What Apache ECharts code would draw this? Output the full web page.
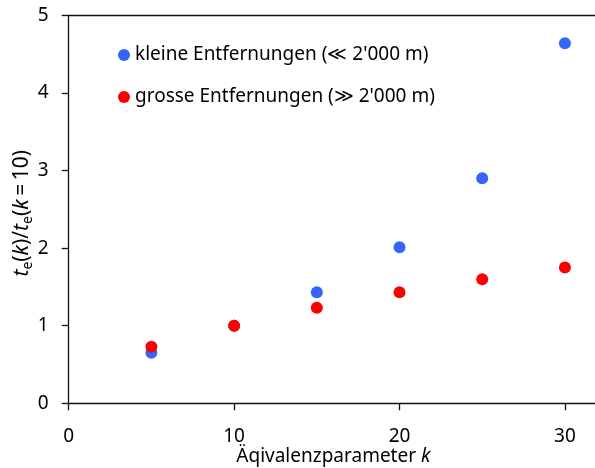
<!DOCTYPE html>
<html>
<head>
<meta charset="utf-8">
<script src="https://cdn.jsdelivr.net/npm/echarts@6/dist/echarts.min.js"></script>
<style>html,body{margin:0;padding:0;background:#fff}#c{width:595px;height:468px}</style>
</head>
<body>
<div id="c"></div>
<script>
var kValues = [5, 10, 15, 20, 25, 30];
var smallDist = [0.65, 1.00, 1.43, 2.01, 2.90, 4.64];
var largeDist = [0.73, 1.00, 1.23, 1.43, 1.60, 1.75];
var seriesNames = ["kleine Entfernungen (\u226A 2'000 m)", "grosse Entfernungen (\u226B 2'000 m)"];
var xTicks = [0, 10, 20, 30];
var yTicks = [0, 1, 2, 3, 4, 5];

var FONT = 'Noto Sans';
var FS = 19;
function pairs(ys){ return kValues.map(function(k,i){ return [k, ys[i]]; }); }

var chart = echarts.init(document.getElementById('c'), null, {renderer:'canvas'});
var axisLineStyle = {color:'#111', width:1.3};
chart.setOption({
  animation:false,
  textStyle:{fontFamily:FONT, color:'#000'},
  grid:{left:68.7, right:-3, top:15.3, bottom:64.7, containLabel:false, outerBoundsMode:'none'},
  legend:{
    orient:'vertical', left:118, top:43, padding:0, itemGap:18,
    itemWidth:12, itemHeight:12, icon:'circle',
    textStyle:{fontFamily:FONT, fontSize:FS, color:'#000', lineHeight:24},
    data:seriesNames
  },
  xAxis:[{
    type:'value', min:0, max:32, interval:10,
    axisLine:{show:true, lineStyle:axisLineStyle},
    axisTick:{show:true, length:7, inside:false, lineStyle:axisLineStyle},
    splitLine:{show:false},
    axisLabel:{fontFamily:FONT, fontSize:FS, color:'#000', margin:24,
      formatter:function(v){ return xTicks.indexOf(v) >= 0 ? String(v) : ''; }},
    name:'{n|\u00C4qivalenzparameter }{i|k}', nameLocation:'middle', nameGap:44, nameMoveOverlap:false,
    nameTextStyle:{rich:{n:{fontFamily:FONT, fontSize:FS, color:'#000'}, i:{fontFamily:FONT, fontSize:FS, fontStyle:'italic', color:'#000'}}}
  },{
    type:'value', position:'top', min:0, max:32,
    axisLine:{show:true, lineStyle:axisLineStyle},
    axisTick:{show:false}, axisLabel:{show:false}, splitLine:{show:false}
  }],
  yAxis:{
    type:'value', min:0, max:5, interval:1,
    axisLine:{show:true, lineStyle:axisLineStyle},
    axisTick:{show:true, length:7, lineStyle:axisLineStyle},
    splitLine:{show:false},
    axisLabel:{fontFamily:FONT, fontSize:FS, color:'#000', margin:20,
      formatter:function(v){ return yTicks.indexOf(v) >= 0 ? String(v) : ''; }},
    name:'{i|t}{s|e}{n|(}{i|k}{n|)/}{i|t}{s|e}{n|(}{i|k}{n|\u2009=\u200910)}',
    nameLocation:'middle', nameRotate:90, nameGap:34, nameMoveOverlap:false,
    nameTextStyle:{padding:[0,8,0,0], rich:{
      n:{fontFamily:FONT, fontSize:21, color:'#000', lineHeight:26, verticalAlign:'middle'},
      i:{fontFamily:FONT, fontSize:21, fontStyle:'italic', color:'#000', lineHeight:26, verticalAlign:'middle'},
      s:{fontFamily:FONT, fontSize:14, color:'#000', lineHeight:13, verticalAlign:'bottom'}
    }}
  },
  series:[
    {name:seriesNames[0], type:'scatter', symbol:'circle', symbolSize:12, data:pairs(smallDist), itemStyle:{color:'#3366FF', opacity:1}, z:2},
    {name:seriesNames[1], type:'scatter', symbol:'circle', symbolSize:12, data:pairs(largeDist), itemStyle:{color:'#FF0000', opacity:1}, z:3}
  ]
});
</script>
</body>
</html>
